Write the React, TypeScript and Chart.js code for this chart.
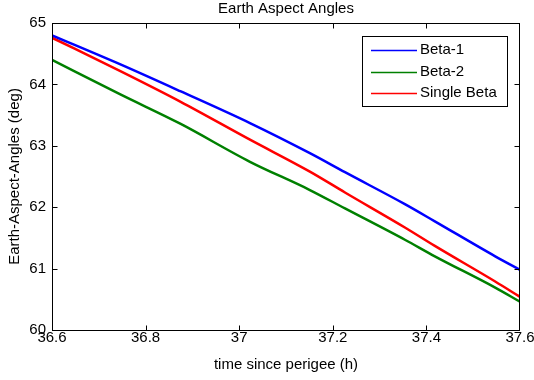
import React, { useEffect, useRef } from "react";
import { Chart, registerables } from "chart.js";

Chart.register(...registerables);

const FONT = '"Liberation Sans", Arial, Helvetica, sans-serif';

const chartTitle = "Earth Aspect Angles";
const xAxisTitle = "time since perigee (h)";
const yAxisTitle = "Earth-Aspect-Angles (deg)";

const seriesNames = ["Beta-1", "Beta-2", "Single Beta"];
const seriesColors = ["#0000ff", "#008000", "#ff0000"];

// time since perigee (h)
const timeHours = [36.6, 36.745, 36.874, 37.023, 37.151, 37.226, 37.354, 37.418, 37.547, 37.6];
// Earth aspect angles (deg)
const beta1 = [64.8, 64.33, 63.89, 63.37, 62.88, 62.57, 62.05, 61.77, 61.2, 60.98];
const beta2 = [64.4, 63.84, 63.36, 62.74, 62.28, 61.98, 61.47, 61.2, 60.69, 60.46];
const singleBeta = [64.76, 64.22, 63.72, 63.1, 62.58, 62.24, 61.67, 61.37, 60.79, 60.54];

const xTickValues = [36.6, 36.8, 37, 37.2, 37.4, 37.6];
const yTickValues = [60, 61, 62, 63, 64, 65];

const seriesValues = [beta1, beta2, singleBeta];

const fmt = (v: number) => String(Number(v.toFixed(1)));

const matlabPlugin = {
  id: "matlabFrame",
  afterDatasetsDraw(chart: any) {
    const { ctx, chartArea: a, scales } = chart;
    ctx.save();
    const L = Math.round(a.left) + 0.5;
    const R = Math.round(a.right) - 0.5;
    const T = Math.round(a.top) + 0.5;
    const B = Math.round(a.bottom) + 0.5;
    ctx.strokeStyle = "#000";
    ctx.lineWidth = 1;
    ctx.strokeRect(L, T, R - L, B - T);
    const tl = 5;
    ctx.beginPath();
    for (const t of scales.x.ticks) {
      let px = Math.round(scales.x.getPixelForValue(t.value)) + 0.5;
      px = Math.min(Math.max(px, L), R);
      ctx.moveTo(px, B);
      ctx.lineTo(px, B - tl);
      ctx.moveTo(px, T);
      ctx.lineTo(px, T + tl);
    }
    for (const t of scales.y.ticks) {
      let py = Math.round(scales.y.getPixelForValue(t.value)) + 0.5;
      py = Math.min(Math.max(py, T), B);
      ctx.moveTo(L, py);
      ctx.lineTo(L + tl, py);
      ctx.moveTo(R, py);
      ctx.lineTo(R - tl, py);
    }
    ctx.stroke();

    // title centred over plot area
    ctx.fillStyle = "#000";
    ctx.font = `15px ${FONT}`;
    ctx.textAlign = "center";
    ctx.textBaseline = "middle";
    ctx.fillText(chartTitle, (a.left + a.right) / 2, 8.5);

    // legend box
    const bx = 362.5, by = 36.5, bw = 145, bh = 70;
    ctx.fillStyle = "#fff";
    ctx.fillRect(bx, by, bw, bh);
    ctx.strokeStyle = "#000";
    ctx.lineWidth = 1;
    ctx.strokeRect(bx, by, bw, bh);
    const rows = [49.5, 71.5, 93];
    ctx.textAlign = "left";
    seriesNames.forEach((name, i) => {
      const yy = Math.round(rows[i]) + 0.5;
      ctx.strokeStyle = seriesColors[i];
      ctx.lineWidth = 1.5;
      ctx.beginPath();
      ctx.moveTo(371, yy);
      ctx.lineTo(417, yy);
      ctx.stroke();
      ctx.fillStyle = "#000";
      ctx.fillText(name, 420, rows[i]);
    });
    ctx.restore();
  },
};

export default function App() {
  const ref = useRef<HTMLCanvasElement | null>(null);

  useEffect(() => {
    document.body.style.margin = "0";
    const canvas = ref.current;
    if (!canvas) return;
    const datasets = seriesNames.map((name, i) => ({
      label: name,
      data: timeHours.map((t, j) => ({ x: t, y: seriesValues[i][j] })),
      borderColor: seriesColors[i],
      backgroundColor: seriesColors[i],
      borderWidth: 2.5,
      pointRadius: 0,
      cubicInterpolationMode: "monotone" as const,
      fill: false,
    }));
    const chart = new Chart(canvas, {
      type: "line",
      data: { datasets },
      options: {
        animation: false,
        responsive: false,
        devicePixelRatio: 1,
        layout: { padding: { left: 0, right: 14, top: 23, bottom: 0 } },
        plugins: {
          legend: { display: false },
          title: { display: false },
          tooltip: { enabled: false },
        },
        scales: {
          x: {
            type: "linear",
            min: 36.6,
            max: 37.6,
            grid: { display: false, drawTicks: false },
            border: { display: false },
            afterBuildTicks: (s: any) => {
              s.ticks = xTickValues.map((v) => ({ value: v }));
            },
            afterFit: (s: any) => {
              s.height = 50;
              s.paddingLeft = 0;
              s.paddingRight = 0;
            },
            ticks: {
              autoSkip: false,
              maxRotation: 0,
              padding: 0,
              color: "#000",
              font: { family: FONT, size: 15, lineHeight: 1 },
              callback: (v: any) => fmt(Number(v)),
            },
            title: {
              display: true,
              text: xAxisTitle,
              color: "#000",
              font: { family: FONT, size: 15 },
              padding: { top: 0, bottom: 6.5 },
            },
          },
          y: {
            type: "linear",
            min: 60,
            max: 65,
            grid: { display: false, drawTicks: false },
            border: { display: false },
            afterBuildTicks: (s: any) => {
              s.ticks = yTickValues.map((v) => ({ value: v }));
            },
            afterFit: (s: any) => {
              s.width = 52;
              s.paddingTop = 0;
              s.paddingBottom = 0;
            },
            ticks: {
              autoSkip: false,
              padding: 6,
              color: "#000",
              font: { family: FONT, size: 15 },
              callback: (v: any) => fmt(Number(v)),
            },
            title: {
              display: true,
              text: yAxisTitle,
              color: "#000",
              font: { family: FONT, size: 15 },
              padding: { top: 6, bottom: 0 },
            },
          },
        },
      },
      plugins: [matlabPlugin],
    });
    return () => chart.destroy();
  }, []);

  return (
    <div style={{ width: 534, height: 380 }}>
      <canvas ref={ref} width={534} height={380} style={{ display: "block" }} />
    </div>
  );
}
